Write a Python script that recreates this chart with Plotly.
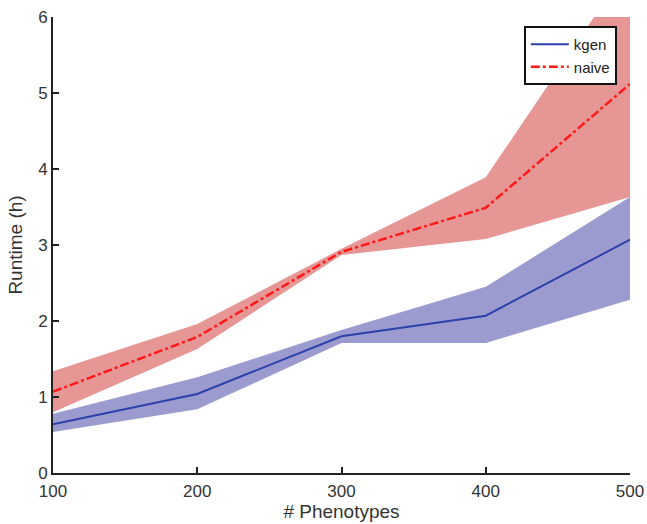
import plotly.graph_objects as go

phenotypes = [100, 200, 300, 400, 500]

kgen_mean = [0.64, 1.04, 1.80, 2.07, 3.07]
kgen_upper = [0.78, 1.26, 1.88, 2.45, 3.63]
kgen_lower = [0.54, 0.84, 1.71, 1.71, 2.28]

naive_mean = [1.07, 1.79, 2.91, 3.49, 5.12]
naive_upper = [1.34, 1.96, 2.95, 3.89, 6.70]
naive_lower = [0.80, 1.63, 2.87, 3.08, 3.63]

fig = go.Figure()

# bands
fig.add_trace(go.Scatter(x=phenotypes, y=naive_upper, mode="lines", line=dict(width=0),
                         showlegend=False, hoverinfo="skip"))
fig.add_trace(go.Scatter(x=phenotypes, y=naive_lower, mode="lines", line=dict(width=0),
                         fill="tonexty", fillcolor="rgb(231,150,150)",
                         showlegend=False, hoverinfo="skip"))
fig.add_trace(go.Scatter(x=phenotypes, y=kgen_upper, mode="lines", line=dict(width=0),
                         showlegend=False, hoverinfo="skip"))
fig.add_trace(go.Scatter(x=phenotypes, y=kgen_lower, mode="lines", line=dict(width=0),
                         fill="tonexty", fillcolor="rgb(155,155,207)",
                         showlegend=False, hoverinfo="skip"))

# lines
fig.add_trace(go.Scatter(x=phenotypes, y=kgen_mean, mode="lines", name="kgen",
                         line=dict(color="rgb(45,65,170)", width=2)))
fig.add_trace(go.Scatter(x=phenotypes, y=naive_mean, mode="lines", name="naive",
                         line=dict(color="rgb(255,25,25)", width=2.5, dash="dashdot")))

tick_font = dict(family="Liberation Sans, Arial, sans-serif", size=17, color="#333")
title_font = dict(family="Liberation Sans, Arial, sans-serif", size=19, color="#333")

fig.update_layout(
    width=647, height=524,
    margin=dict(l=53, r=17, t=17, b=51),
    plot_bgcolor="white", paper_bgcolor="white",
    font=tick_font,
    xaxis=dict(range=[100, 500], tickvals=phenotypes, ticks="inside", ticklen=6, tickwidth=2,
               tickcolor="#222", showline=True, linecolor="#222", linewidth=2,
               showgrid=False, zeroline=False, automargin=False, tickfont=tick_font,
               ticklabelstandoff=2,
               title=dict(text="# Phenotypes", font=title_font, standoff=2)),
    yaxis=dict(range=[0, 6], tickvals=[0, 1, 2, 3, 4, 5, 6], ticks="inside", ticklen=6, tickwidth=2,
               tickcolor="#222", showline=True, linecolor="#222", linewidth=2,
               showgrid=False, zeroline=False, automargin=False, tickfont=tick_font,
               title=dict(text="Runtime (h)", font=title_font, standoff=10)),
    legend=dict(x=0.816, y=0.98, xanchor="left", yanchor="top",
                bgcolor="white", bordercolor="#111", borderwidth=2,
                traceorder="normal",
                font=dict(family="Liberation Sans, Arial, sans-serif", size=15, color="#222"),
                tracegroupgap=0, itemwidth=38),
    showlegend=True,
)

fig.write_html("out.html")
